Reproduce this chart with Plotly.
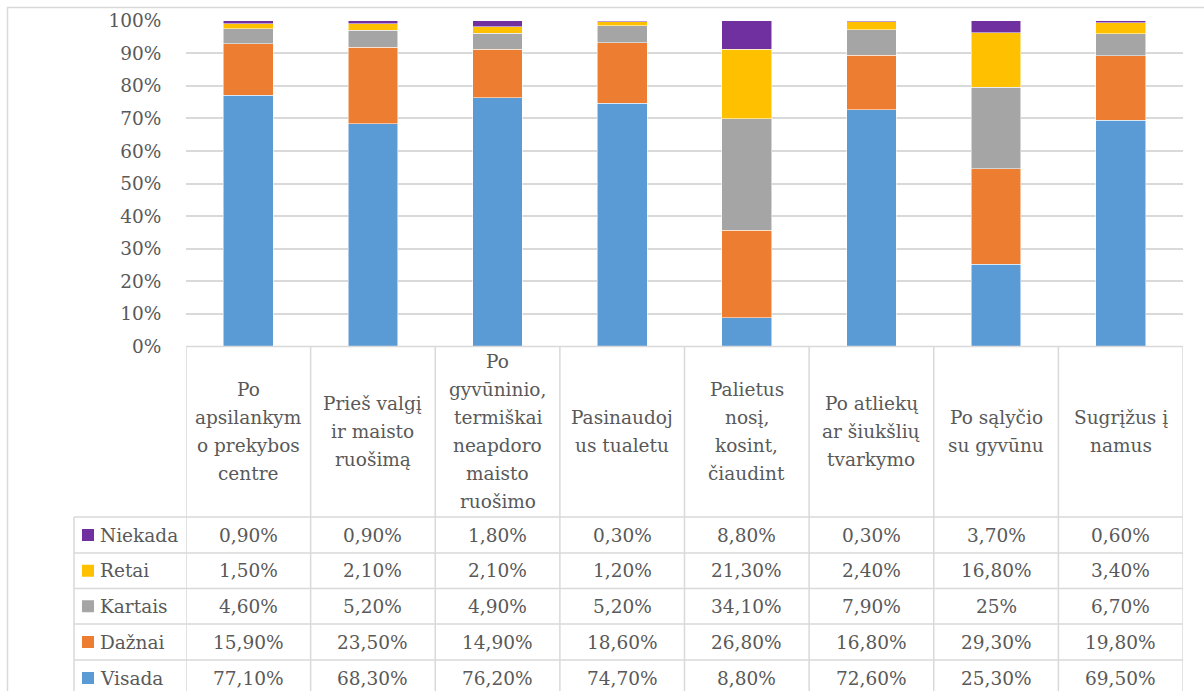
import plotly.graph_objects as go

W, H = 1204, 691

categories = [
    "Po apsilankymo prekybos centre",
    "Prieš valgį ir maisto ruošimą",
    "Po gyvūninio, termiškai neapdoroto maisto ruošimo",
    "Pasinaudojus tualetu",
    "Palietus nosį, kosint, čiaudint",
    "Po atliekų ar šiukšlių tvarkymo",
    "Po sąlyčio su gyvūnu",
    "Sugrįžus į namus",
]
category_lines = [
    ["Po", "apsilankym", "o prekybos", "centre"],
    ["Prieš valgį", "ir maisto", "ruošimą"],
    ["Po", "gyvūninio,", "termiškai", "neapdoro", "maisto", "ruošimo"],
    ["Pasinaudoj", "us tualetu"],
    ["Palietus", "nosį,", "kosint,", "čiaudint"],
    ["Po atliekų", "ar šiukšlių", "tvarkymo"],
    ["Po sąlyčio", "su gyvūnu"],
    ["Sugrįžus į", "namus"],
]

visada  = [77.1, 68.3, 76.2, 74.7, 8.8, 72.6, 25.3, 69.5]
daznai  = [15.9, 23.5, 14.9, 18.6, 26.8, 16.8, 29.3, 19.8]
kartais = [4.6, 5.2, 4.9, 5.2, 34.1, 7.9, 25.0, 6.7]
retai   = [1.5, 2.1, 2.1, 1.2, 21.3, 2.4, 16.8, 3.4]
niekada = [0.9, 0.9, 1.8, 0.3, 8.8, 0.3, 3.7, 0.6]

series_names = ["Visada", "Dažnai", "Kartais", "Retai", "Niekada"]
series_values = [visada, daznai, kartais, retai, niekada]
series_colors = ["#5B9BD5", "#ED7D31", "#A5A5A5", "#FFC000", "#7030A0"]

FONT = "DejaVu Serif"
TXT = "#595959"
GRID = "#D9D9D9"
FS = 18.5


def px(x):
    return x / W


def py(y):
    return 1 - y / H


def fmt(v):
    if v == int(v):
        return f"{int(v)}%"
    return f"{v:.2f}%".replace(".", ",")


fig = go.Figure()
for name, vals, col in zip(series_names, series_values, series_colors):
    fig.add_trace(go.Bar(
        x=categories, y=vals, name=name,
        marker=dict(color=col, line=dict(color="rgba(255,255,255,0.7)", width=0.75)),
        width=0.4, showlegend=False,
    ))

plot_top, plot_bot = 20.7, 346.5
x_left, x_right = 186, 1183

fig.update_layout(
    width=W, height=H,
    margin=dict(l=0, r=0, t=0, b=0, autoexpand=False),
    paper_bgcolor="white", plot_bgcolor="white",
    font=dict(family=FONT, color=TXT),
    barmode="stack", barnorm="fraction",
    xaxis=dict(domain=[px(x_left), px(x_right)], range=[-0.5, 7.5],
               showticklabels=False, showgrid=False, zeroline=False,
               showline=False, ticks=""),
    yaxis=dict(domain=[py(plot_bot), py(plot_top)], range=[0, 1],
               dtick=0.1, tickformat=".0%", showgrid=True, gridcolor=GRID,
               gridwidth=1.5, zeroline=False, showline=False,
               ticks="outside", ticklen=20, tickcolor="rgba(0,0,0,0)",
               tickfont=dict(family=FONT, size=FS, color=TXT)),
)

shapes = []
shapes.append(dict(type="rect", xref="paper", yref="paper",
                   x0=px(7.5), x1=px(1215), y0=py(7.5), y1=py(720),
                   line=dict(color=GRID, width=1.5), layer="below"))

table_bottom = 700
row_lines = [517, 553, 588.5, 624, 660]
shapes.append(dict(type="line", xref="paper", yref="paper",
                   x0=px(x_left), x1=px(x_right), y0=py(plot_bot), y1=py(plot_bot),
                   line=dict(color=GRID, width=1.5)))
for yl in row_lines:
    shapes.append(dict(type="line", xref="paper", yref="paper",
                       x0=px(74), x1=px(x_right), y0=py(yl), y1=py(yl),
                       line=dict(color=GRID, width=1.5)))
shapes.append(dict(type="line", xref="paper", yref="paper",
                   x0=px(74), x1=px(74), y0=py(517), y1=py(table_bottom),
                   line=dict(color=GRID, width=1.5)))
for i in range(len(categories) + 1):
    shapes.append(dict(type="line", xref="x", yref="paper",
                       x0=i - 0.5, x1=i - 0.5, y0=py(plot_bot), y1=py(table_bottom),
                       line=dict(color=GRID, width=1.5)))

annotations = []
header_center = (plot_bot + 517) / 2
line_h = 28
for i, lines in enumerate(category_lines):
    n = len(lines)
    for k, t in enumerate(lines):
        yc = header_center + (k - (n - 1) / 2) * line_h
        annotations.append(dict(x=i, xref="x", y=py(yc), yref="paper",
                                text=t, showarrow=False, xanchor="center",
                                yanchor="middle",
                                font=dict(family=FONT, size=FS, color=TXT)))

row_order = [4, 3, 2, 1, 0]
row_bounds = row_lines + [696]
for r, si in enumerate(row_order):
    yc = (row_bounds[r] + row_bounds[r + 1]) / 2
    shapes.append(dict(type="rect", xref="paper", yref="paper",
                       x0=px(82), x1=px(94), y0=py(yc - 6), y1=py(yc + 6),
                       fillcolor=series_colors[si], line=dict(width=0)))
    annotations.append(dict(x=px(98), xref="paper", y=py(yc), yref="paper",
                            text=series_names[si], showarrow=False,
                            xanchor="left", yanchor="middle",
                            font=dict(family=FONT, size=FS, color=TXT)))
    for i, v in enumerate(series_values[si]):
        annotations.append(dict(x=i, xref="x", y=py(yc), yref="paper",
                                text=fmt(v), showarrow=False,
                                xanchor="center", yanchor="middle",
                                font=dict(family=FONT, size=FS, color=TXT)))

fig.update_layout(shapes=shapes, annotations=annotations)
fig.write_html("out.html")
